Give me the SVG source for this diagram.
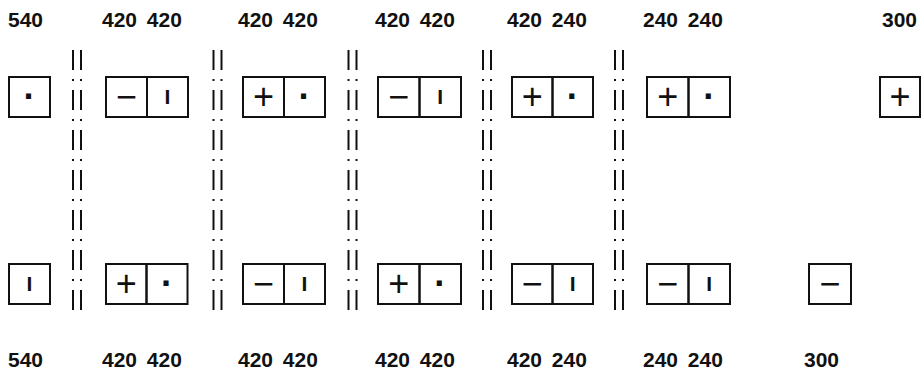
<svg xmlns="http://www.w3.org/2000/svg" width="923" height="372" viewBox="0 0 923 372">
<style>
.box{fill:none;stroke:#111;stroke-width:2}
.sep{stroke:#111;stroke-width:2;stroke-dasharray:20 9 2 9;fill:none}
.lbl{font-family:"Liberation Sans",Arial,sans-serif;font-size:21px;font-weight:bold;fill:#111}
.sym{font-family:"Liberation Sans",Arial,sans-serif;font-size:36px;text-anchor:middle;fill:#111}
.dot{font-family:"Liberation Sans",Arial,sans-serif;font-size:36px;font-weight:bold;text-anchor:middle;fill:#111}
.bar{font-family:"Liberation Sans",Arial,sans-serif;font-size:21px;font-weight:bold;text-anchor:middle;fill:#111}
</style>
<rect width="923" height="372" fill="#fff"/>
<g id="labels-top" class="lbl">
<text x="8" y="27">540</text>
<text x="102" y="27" word-spacing="4">420 420</text>
<text x="238" y="27" word-spacing="4">420 420</text>
<text x="375" y="27" word-spacing="4">420 420</text>
<text x="507" y="27" word-spacing="4">420 240</text>
<text x="643" y="27" word-spacing="4">240 240</text>
<text x="882" y="27">300</text>
</g>
<g id="labels-bottom" class="lbl">
<text x="8" y="366.5">540</text>
<text x="102" y="366.5" word-spacing="4">420 420</text>
<text x="238" y="366.5" word-spacing="4">420 420</text>
<text x="375" y="366.5" word-spacing="4">420 420</text>
<text x="507" y="366.5" word-spacing="4">420 240</text>
<text x="643" y="366.5" word-spacing="4">240 240</text>
<text x="804" y="366.5">300</text>
</g>
<g id="connectors">
<path class="sep" d="M73,50V311M81,50V311"/>
<path class="sep" d="M213.5,50V311M221.5,50V311"/>
<path class="sep" d="M348.5,50V311M356.5,50V311"/>
<path class="sep" d="M483,50V311M491,50V311"/>
<path class="sep" d="M615,50V311M623,50V311"/>
</g>
<g id="t0"><rect class="box" x="9" y="77" width="41" height="40"/><text class="dot" x="29.5" y="109">·</text></g>
<g id="t1"><rect class="box" x="106" y="77" width="41" height="40"/><rect class="box" x="147" y="77" width="41" height="40"/><text class="sym" x="126.5" y="108.7">−</text><text class="bar" x="167.5" y="103.5">I</text></g>
<g id="t2"><rect class="box" x="243" y="77" width="41" height="40"/><rect class="box" x="284" y="77" width="41" height="40"/><text class="sym" x="263.5" y="108.7">+</text><text class="dot" x="304.5" y="109">·</text></g>
<g id="t3"><rect class="box" x="378" y="77" width="41.5" height="40"/><rect class="box" x="419.5" y="77" width="41.5" height="40"/><text class="sym" x="398.7" y="108.7">−</text><text class="bar" x="440.2" y="103.5">I</text></g>
<g id="t4"><rect class="box" x="512" y="77" width="40.5" height="40"/><rect class="box" x="552.5" y="77" width="40.5" height="40"/><text class="sym" x="532.2" y="108.7">+</text><text class="dot" x="572.7" y="109">·</text></g>
<g id="t5"><rect class="box" x="647" y="77" width="41.5" height="40"/><rect class="box" x="688.5" y="77" width="41.5" height="40"/><text class="sym" x="667.7" y="108.7">+</text><text class="dot" x="709.2" y="109">·</text></g>
<g id="t6"><rect class="box" x="880" y="77" width="40" height="40"/><text class="sym" x="900" y="108.7">+</text></g>
<g id="b0"><rect class="box" x="9" y="264" width="41" height="40"/><text class="bar" x="29.5" y="291">I</text></g>
<g id="b1"><rect class="box" x="106" y="264" width="40.5" height="40"/><rect class="box" x="146.5" y="264" width="41" height="40"/><text class="sym" x="126.2" y="296">+</text><text class="dot" x="167" y="296.3">·</text></g>
<g id="b2"><rect class="box" x="243" y="264" width="41" height="40"/><rect class="box" x="284" y="264" width="41" height="40"/><text class="sym" x="263.5" y="296">−</text><text class="bar" x="304.5" y="291">I</text></g>
<g id="b3"><rect class="box" x="378" y="264" width="41.5" height="40"/><rect class="box" x="419.5" y="264" width="41.5" height="40"/><text class="sym" x="398.7" y="296">+</text><text class="dot" x="440.2" y="296.3">·</text></g>
<g id="b4"><rect class="box" x="512" y="264" width="40.5" height="40"/><rect class="box" x="552.5" y="264" width="40.5" height="40"/><text class="sym" x="532.2" y="296">−</text><text class="bar" x="572.7" y="291">I</text></g>
<g id="b5"><rect class="box" x="647" y="264" width="41.5" height="40"/><rect class="box" x="688.5" y="264" width="41.5" height="40"/><text class="sym" x="667.7" y="296">−</text><text class="bar" x="709.2" y="291">I</text></g>
<g id="b6"><rect class="box" x="809" y="264" width="42" height="40"/><text class="sym" x="830" y="296">−</text></g>
</svg>
